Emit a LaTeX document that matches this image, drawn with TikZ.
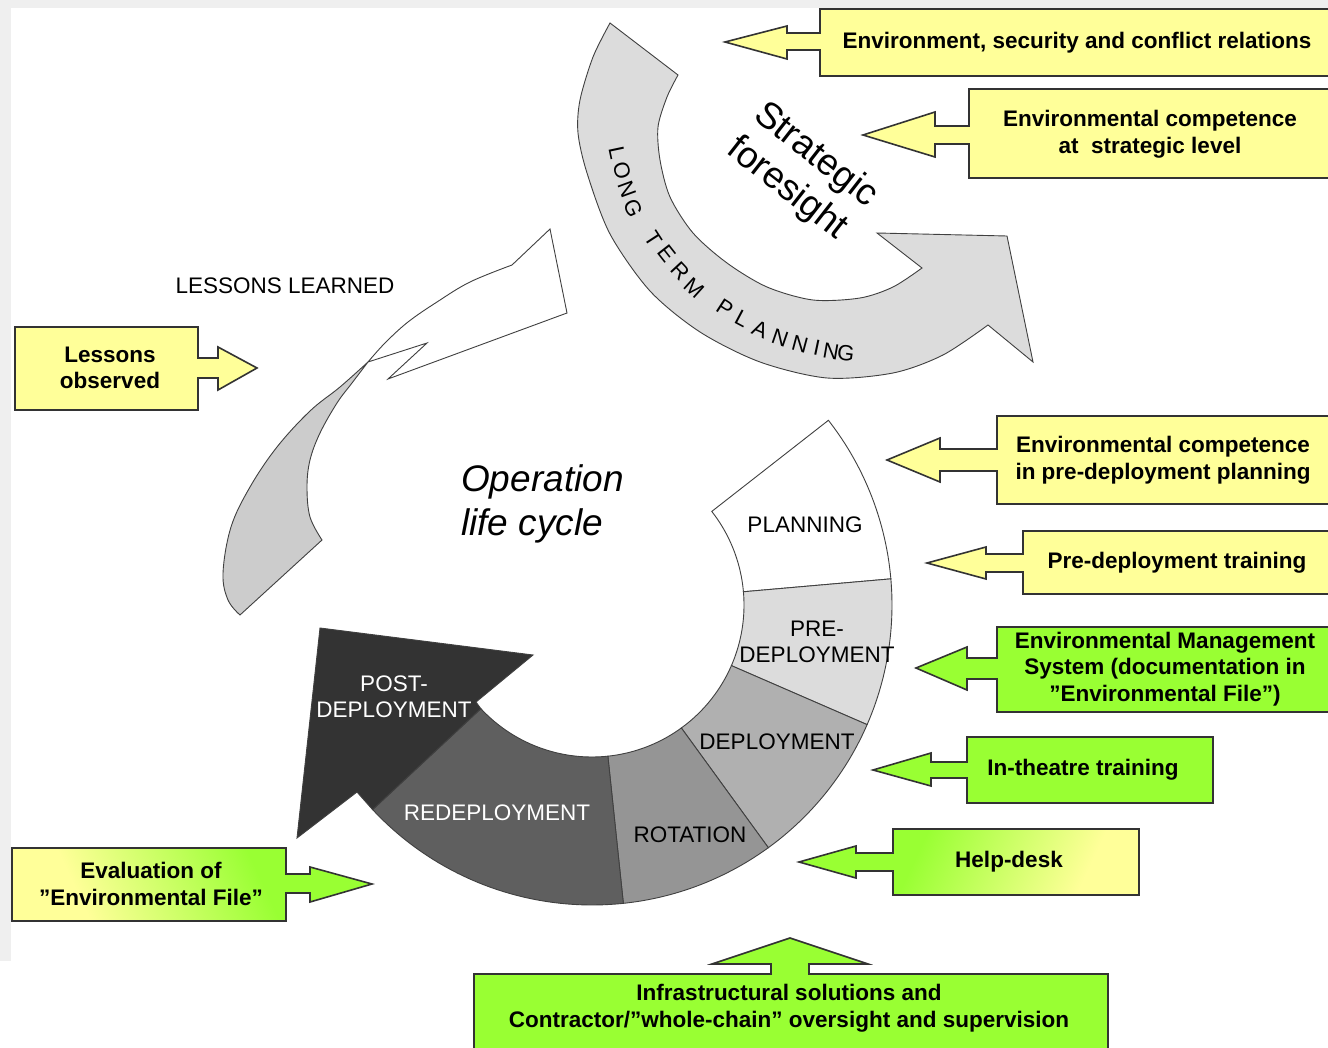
\documentclass[tikz,border=0pt]{standalone}
\usepackage{fontspec}
\setmainfont{Liberation Sans}
\usetikzlibrary{calc}
\definecolor{ylw}{HTML}{FFFF99}
\definecolor{grn}{HTML}{99FF33}
\definecolor{framegray}{HTML}{EFEFEF}
\definecolor{sgray}{HTML}{DCDCDC}
\definecolor{lgray}{HTML}{CCCCCC}
\definecolor{cpre}{HTML}{DCDCDC}
\definecolor{cdep}{HTML}{B0B0B0}
\definecolor{crot}{HTML}{959595}
\definecolor{credep}{HTML}{5F5F5F}
\definecolor{cpost}{HTML}{333333}
\pgfdeclarehorizontalshading{helpshade}{100bp}{color(0bp)=(grn); color(40bp)=(grn); color(72bp)=(ylw); color(100bp)=(ylw)}
\pgfdeclarehorizontalshading{evalshade}{100bp}{color(0bp)=(ylw); color(30bp)=(ylw); color(62bp)=(grn); color(100bp)=(grn)}
\def\cx{592}\def\cy{605}\def\Ro{300}\def\Ri{152}
\newcommand\ringseg[3]{\path[seg, fill=#3] plot[domain=#1:#2, samples=40] ({\cx+\Ro*cos(\x)},{\cy+\Ro*sin(\x)}) -- plot[domain=#2:#1, samples=40] ({\cx+\Ri*cos(\x)},{\cy+\Ri*sin(\x)}) -- cycle;}
\tikzset{
  callout/.style={draw=black!80, line width=1.6pt, line join=miter},
  ctext/.style={font=\fontsize{22.5}{26.5}\selectfont\bfseries, align=center, inner sep=0pt},
  seg/.style={draw=black!75, line width=0.9pt, line join=miter},
  segtext/.style={font=\fontsize{22.5}{26}\selectfont, align=center, inner sep=0pt},
  arcletter/.style={font=\fontsize{22}{22}\selectfont, inner sep=0pt, text=black},
  bigital/.style={font=\fontsize{37}{44}\selectfont\itshape, align=left, inner sep=0pt},
  bigtext/.style={font=\fontsize{37}{44}\selectfont, align=left, inner sep=0pt}
}
\begin{document}
\begin{tikzpicture}[x=1pt,y=-1pt]
\useasboundingbox (0,0) rectangle (1328,1048);
\clip (0,0) rectangle (1328,1048);
\fill[white] (0,0) rectangle (1328,1048);
\fill[framegray] (0,0) rectangle (1328,8);
\fill[framegray] (0,0) rectangle (11,961);

% ---------- Strategic foresight arrow ----------
\path[seg, fill=sgray] (610,23) -- (678,75) -- plot[smooth, tension=0.5] coordinates {(678,75) (667,97) (658,127) (660,160) (670,197) (693,233) (727,263) (767,287) (813,300) (860,298) (893,287) (922,268)} -- (877,233) -- (1007,236) -- (1033,362) -- (988,325) -- plot[smooth, tension=0.5] coordinates {(988,325) (943,355) (893,373) (827,378) (760,362) (700,332) (650,291) (610,234) (587,173) (578,133) (580,100) (593,57) (610,23)} -- cycle;

\node[bigtext, rotate=-38] (strat) at (802,173) {Strategic\\foresight};

\foreach \ch/\px/\py/\r [count=\i] in {L/617/153/-78, O/622/171/-74, N/627/189/-70, G/633/208/-66, T/653/239/-57, E/667/254/-52, R/680/271/-47, M/694/288/-42, P/725/308/-33, L/742/319/-28, A/760/329/-23, N/780/338/-19, N/800/344/-15, I/817/348/-12, N/831/351/-10, G/846/353/-8}
  \node[arcletter, rotate=\r] (ltp\i) at (\px,\py) {\ch};

% ---------- Lessons learned arrow ----------
\path[seg, fill=lgray] (368,362) -- plot[smooth, tension=0.6] coordinates {(368,362) (340,387) (310,411) (277,447) (250,487) (231,527) (223,573) (228,600) (240,615)} -- (322,540) -- plot[smooth, tension=0.6] coordinates {(322,540) (310,517) (307,487) (310,460) (320,433) (337,403) (352,383) (368,362)} -- cycle;
\path[seg, fill=white] (368,362) -- plot[smooth, tension=0.6] coordinates {(368,362) (385,343) (408,322) (437,302) (470,282) (512,265)} -- (550,229) -- (567,313) -- (388,379) -- (427,343) -- (368,362) -- cycle;
\node[segtext] (ll) at (285,286) {LESSONS LEARNED};

% ---------- Operation life cycle ring ----------
\ringseg{-38}{-5}{white}
\ringseg{-5}{23.5}{cpre}
\ringseg{23.5}{54}{cdep}
\ringseg{54}{84}{crot}
\ringseg{84}{137}{credep}
\path[seg, fill=cpost] (320,628) -- (533,655) -- (476,702) -- ({\cx+\Ri*cos(137)},{\cy+\Ri*sin(137)}) -- ({\cx+\Ro*cos(137)},{\cy+\Ro*sin(137)}) -- (357,792) -- (297,838) -- cycle;

\node[segtext] (plan) at (805,525) {PLANNING};
\node[segtext] (pre) at (817,642) {PRE-\\DEPLOYMENT};
\node[segtext] (dep) at (777,742) {DEPLOYMENT};
\node[segtext] (rot) at (690,835) {ROTATION};
\node[segtext, text=white] (redep) at (497,813) {REDEPLOYMENT};
\node[segtext, text=white] (post) at (394,697) {POST-\\DEPLOYMENT};
\node[bigital, anchor=west] (olc) at (461,504) {Operation\\life cycle};

% ---------- Callouts ----------
\path[callout, fill=ylw] (820,9) -- (1340,9) -- (1340,76) -- (820,76) -- (820,50) -- (787,50) -- (787,59) -- (725,42) -- (787,26) -- (787,33) -- (820,33) -- cycle;
\node[ctext] (c1) at (1077,43) {Environment, security and conflict relations};

\path[callout, fill=ylw] (969,89) -- (1340,89) -- (1340,178) -- (969,178) -- (969,144) -- (935,144) -- (935,157) -- (863,135) -- (935,112) -- (935,126) -- (969,126) -- cycle;
\node[ctext] (c2) at (1150,134) {Environmental competence\\at\ \ strategic level};

\path[callout, fill=ylw] (15,327) -- (198,327) -- (198,358) -- (218,358) -- (218,347) -- (257,368) -- (218,390) -- (218,378) -- (198,378) -- (198,410) -- (15,410) -- cycle;
\node[ctext] (c3) at (110,368) {Lessons\\observed};

\path[callout, fill=ylw] (997,416) -- (1340,416) -- (1340,504) -- (997,504) -- (997,471) -- (940,471) -- (940,482) -- (887,460) -- (940,438) -- (940,449) -- (997,449) -- cycle;
\node[ctext] (c4) at (1163,460) {Environmental competence\\in pre-deployment planning};

\path[callout, fill=ylw] (1023,531) -- (1340,531) -- (1340,594) -- (1023,594) -- (1023,572) -- (986,572) -- (986,579) -- (927,563) -- (986,547) -- (986,554) -- (1023,554) -- cycle;
\node[ctext] (c5) at (1177,563) {Pre-deployment training};

\path[callout, fill=grn] (997,627) -- (1340,627) -- (1340,712) -- (997,712) -- (997,679) -- (967,679) -- (967,690) -- (916,668) -- (967,647) -- (967,658) -- (997,658) -- cycle;
\node[ctext] (c6) at (1165,669) {Environmental Management\\System (documentation in\\”Environmental File”)};

\path[callout, fill=grn] (967,737) -- (1213,737) -- (1213,803) -- (967,803) -- (967,778) -- (931,778) -- (931,786) -- (873,770) -- (931,753) -- (931,762) -- (967,762) -- cycle;
\node[ctext] (c7) at (1083,770) {In-theatre training};

\path[callout, shading=helpshade, shading angle=-25] (893,829) -- (1139,829) -- (1139,895) -- (893,895) -- (893,871) -- (856,871) -- (856,878) -- (799,862) -- (856,846) -- (856,853) -- (893,853) -- cycle;
\node[ctext] (c8) at (1009,862) {Help-desk};

\path[callout, shading=evalshade, shading angle=25] (12,848) -- (286,848) -- (286,874) -- (310,874) -- (310,867) -- (372,884) -- (310,902) -- (310,893) -- (286,893) -- (286,921) -- (12,921) -- cycle;
\node[ctext] (c9) at (151,884) {Evaluation of\\”Environmental File”};

\path[callout, fill=grn] (474,974) -- (771,974) -- (771,964) -- (712,964) -- (790,938) -- (868,964) -- (809,964) -- (809,974) -- (1108,974) -- (1108,1062) -- (474,1062) -- cycle;
\node[ctext] (c10) at (789,1008) {Infrastructural solutions and\\Contractor/”whole-chain” oversight and supervision};
\end{tikzpicture}
\end{document}
